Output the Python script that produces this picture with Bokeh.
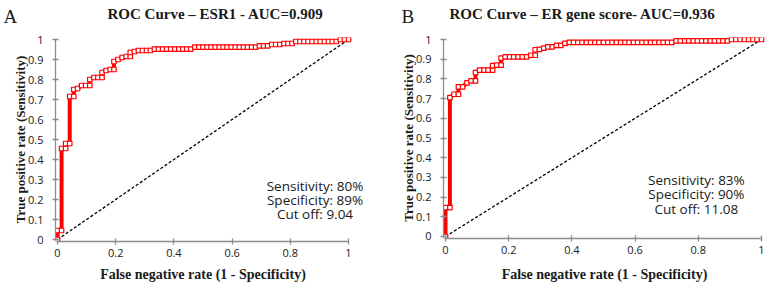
from bokeh.plotting import figure
from bokeh.layouts import row, column
from bokeh.models import Range1d, FixedTicker, Label
from bokeh.embed import file_html
from bokeh.resources import INLINE

# ---------------- data ----------------
x_ticks = [0, 0.2, 0.4, 0.6, 0.8, 1]
x_tick_labels = ["0", "0.2", "0.4", "0.6", "0.8", "1"]
y_ticks = [0, 0.1, 0.2, 0.3, 0.4, 0.5, 0.6, 0.7, 0.8, 0.9, 1]
y_tick_labels = ["0", "0.1", "0.2", "0.3", "0.4", "0.5", "0.6", "0.7", "0.8", "0.9", "1"]

diag_x = [0, 1]
diag_y = [0, 1]

fpr_a = [0.000, 0.000, 0.014, 0.014, 0.028, 0.028, 0.042, 0.042, 0.056, 0.056,
         0.069, 0.083, 0.097, 0.111, 0.111, 0.125, 0.139, 0.153, 0.153, 0.167,
         0.181, 0.194, 0.194, 0.208, 0.222, 0.236, 0.250, 0.250, 0.264, 0.278,
         0.292, 0.306, 0.319, 0.333, 0.347, 0.361, 0.375, 0.389, 0.403, 0.417,
         0.431, 0.444, 0.458, 0.472, 0.486, 0.500, 0.514, 0.528, 0.542, 0.556,
         0.569, 0.583, 0.597, 0.611, 0.625, 0.639, 0.653, 0.667, 0.681, 0.694,
         0.708, 0.722, 0.736, 0.750, 0.764, 0.778, 0.792, 0.806, 0.819, 0.833,
         0.847, 0.861, 0.875, 0.889, 0.903, 0.917, 0.931, 0.944, 0.958, 0.972,
         0.986, 1.000]
tpr_a = [0.000, 0.045, 0.045, 0.455, 0.455, 0.480, 0.480, 0.715, 0.715, 0.750,
         0.755, 0.770, 0.770, 0.770, 0.800, 0.810, 0.810, 0.810, 0.835, 0.845,
         0.850, 0.850, 0.890, 0.900, 0.910, 0.915, 0.915, 0.935, 0.940, 0.945,
         0.945, 0.945, 0.945, 0.952, 0.952, 0.952, 0.952, 0.952, 0.952, 0.952,
         0.952, 0.952, 0.952, 0.962, 0.962, 0.962, 0.962, 0.962, 0.962, 0.962,
         0.962, 0.962, 0.962, 0.962, 0.962, 0.962, 0.962, 0.962, 0.962, 0.968,
         0.968, 0.968, 0.975, 0.975, 0.975, 0.980, 0.980, 0.980, 0.990, 0.990,
         0.990, 0.990, 0.990, 0.990, 0.990, 0.990, 0.990, 0.990, 0.990, 1.000,
         1.000, 1.000]

fpr_b = [0.000, 0.000, 0.014, 0.014, 0.027, 0.041, 0.041, 0.054, 0.068, 0.081,
         0.095, 0.095, 0.108, 0.122, 0.135, 0.149, 0.149, 0.162, 0.176, 0.176,
         0.189, 0.203, 0.216, 0.230, 0.243, 0.257, 0.270, 0.284, 0.284, 0.297,
         0.311, 0.324, 0.338, 0.351, 0.365, 0.378, 0.392, 0.405, 0.419, 0.432,
         0.446, 0.459, 0.473, 0.486, 0.500, 0.514, 0.527, 0.541, 0.554, 0.568,
         0.581, 0.595, 0.608, 0.622, 0.635, 0.649, 0.662, 0.676, 0.689, 0.703,
         0.716, 0.730, 0.743, 0.757, 0.770, 0.784, 0.797, 0.811, 0.824, 0.838,
         0.851, 0.865, 0.878, 0.892, 0.905, 0.919, 0.932, 0.946, 0.959, 0.973,
         0.986, 1.000]
tpr_b = [0.000, 0.147, 0.147, 0.705, 0.722, 0.722, 0.760, 0.760, 0.780, 0.790,
         0.790, 0.832, 0.845, 0.845, 0.845, 0.845, 0.867, 0.870, 0.870, 0.905,
         0.912, 0.912, 0.912, 0.912, 0.912, 0.912, 0.920, 0.920, 0.948, 0.950,
         0.956, 0.963, 0.963, 0.970, 0.970, 0.980, 0.985, 0.985, 0.985, 0.985,
         0.985, 0.985, 0.985, 0.985, 0.985, 0.985, 0.985, 0.985, 0.985, 0.985,
         0.985, 0.985, 0.985, 0.985, 0.985, 0.985, 0.985, 0.985, 0.985, 0.985,
         0.985, 0.993, 0.993, 0.993, 0.993, 0.993, 0.993, 0.993, 0.993, 0.993,
         0.993, 0.993, 0.993, 0.993, 1.000, 1.000, 1.000, 1.000, 1.000, 1.000,
         1.000, 1.000]

panel_letters = ["A", "B"]
titles = ["ROC Curve \u2013 ESR1 - AUC=0.909", "ROC Curve \u2013 ER gene score- AUC=0.936"]
stats = [["Sensitivity: 80%", "Specificity: 89%", "Cut off: 9.04"],
         ["Sensitivity: 83%", "Specificity: 90%", "Cut off: 11.08"]]
x_label = "False negative rate (1 - Specificity)"
y_label = "True positive rate (Sensitivity)"

SERIF = "Liberation Serif"
SANS = "Open Sans"
AXIS_GRAY = "#8c8c8c"
TEXT = "#1a1a1a"


def strip(height):
    f = figure(width=770, height=height, x_range=Range1d(0, 770),
               y_range=Range1d(height, 0), min_border=0,
               output_backend="svg", toolbar_location=None)
    f.axis.visible = False
    f.grid.visible = False
    f.outline_line_color = None
    return f


def panel(fx, fy, stat_lines, geom):
    (bl, fw, br, bt, fh, bb, x0, x1, y0, y1, stat_x, stat_ys) = geom
    p = figure(frame_width=fw, frame_height=fh,
               min_border_left=bl, min_border_right=br,
               min_border_top=bt, min_border_bottom=bb,
               x_range=Range1d(x0, x1), y_range=Range1d(y0, y1),
               output_backend="svg", toolbar_location=None)
    p.outline_line_color = None
    p.xgrid.visible = False
    p.ygrid.visible = False

    for ax, ticks, labels in ((p.xaxis[0], x_ticks, x_tick_labels),
                              (p.yaxis[0], y_ticks, y_tick_labels)):
        ax.ticker = FixedTicker(ticks=ticks)
        ax.major_label_overrides = {t: l for t, l in zip(ticks, labels)}
        ax.bounds = (0, 1)
        ax.axis_line_color = AXIS_GRAY
        ax.axis_line_width = 1.3
        ax.major_tick_line_color = AXIS_GRAY
        ax.major_tick_line_width = 1.3
        ax.major_tick_in = 3
        ax.major_tick_out = 3
        ax.minor_tick_line_color = None
        ax.major_label_text_font = SANS
        ax.major_label_text_font_size = "11px"
        ax.major_label_text_color = TEXT
    p.xaxis.major_label_standoff = 4
    p.yaxis.major_label_standoff = 9
    p.yaxis.axis_label = y_label
    p.yaxis.axis_label_text_font = SERIF
    p.yaxis.axis_label_text_font_style = "bold"
    p.yaxis.axis_label_text_color = TEXT
    p.yaxis.axis_label_text_font_size = "13px"
    p.yaxis.axis_label_standoff = -3

    p.line(diag_x, diag_y, line_color="black", line_width=1.3, line_dash="3 2")
    p.line(fx, fy, line_color="#ff0000", line_width=4)
    p.scatter(fx, fy, marker="square", size=4.5, line_color="#ff0000",
              line_width=1.2, fill_color="white")

    for s, sy in zip(stat_lines, stat_ys):
        p.add_layout(Label(x=stat_x, y=sy, text=s,
                           text_font=SANS, text_font_size="13.5px",
                           text_align="center", text_baseline="middle",
                           text_color=TEXT))
    return p


# geometry: border/frame px, data ranges, stats anchors (data units)
geom_a = (55, 330, 0, 7, 204, 23, -0.0069, 1.1271, -0.01, 1.01,
          0.885, [0.27, 0.199, 0.128])
geom_b = (58, 327, 0, 5, 201, 28, -0.0063, 1.0285, -0.0102, 1.0102,
          0.794, [0.2868, 0.2132, 0.1396])

pa = panel(fpr_a, tpr_a, stats[0], geom_a)
pb = panel(fpr_b, tpr_b, stats[1], geom_b)

# header strip: panel letters and titles (pixel-like coordinates)
header = strip(30)
for letter, lx, title, tx in zip(panel_letters, [3, 401], titles, [215, 582]):
    header.add_layout(Label(x=lx, y=16, text=letter, text_font=SERIF,
                            text_font_size="19px", text_align="left",
                            text_baseline="middle", text_color=TEXT))
    header.add_layout(Label(x=tx, y=13, text=title, text_font=SERIF,
                            text_font_style="bold", text_font_size="15px",
                            text_align="center", text_baseline="middle",
                            text_color=TEXT))

# footer strip: x-axis titles centred under each axis
footer = strip(20)
for fx_center in [202.5, 604]:
    footer.add_layout(Label(x=fx_center, y=10, text=x_label, text_font=SERIF,
                            text_font_style="bold", text_font_size="14px",
                            text_align="center", text_baseline="middle",
                            text_color=TEXT))

layout = column(header, row(pa, pb, spacing=0), footer, spacing=0)
open("out.html", "w").write(file_html(layout, INLINE))
